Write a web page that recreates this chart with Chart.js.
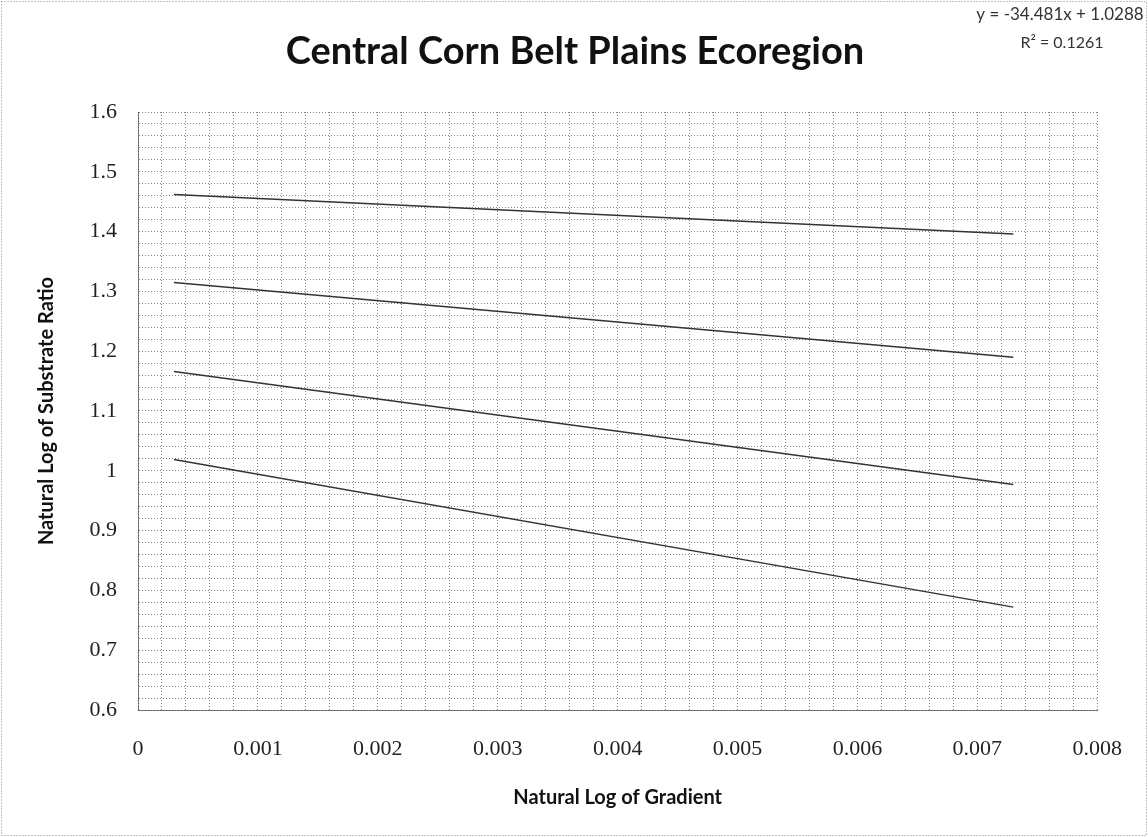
<!DOCTYPE html>
<html>
<head>
<meta charset="utf-8">
<script src="https://cdn.jsdelivr.net/npm/chart.js@4.4.1/dist/chart.umd.min.js"></script>
<style>
  html, body { margin: 0; padding: 0; background: #fff; }
  canvas { display: block; }
</style>
</head>
<body>
<canvas id="c" width="1148" height="837"></canvas>
<script>
// ---- data ----
const chartTitle = 'Central Corn Belt Plains Ecoregion';
const equationText = 'y = -34.481x + 1.0288';
const r2Text = 'R² = 0.1261';
const xAxisTitle = 'Natural Log of Gradient';
const yAxisTitle = 'Natural Log of Substrate Ratio';

const xTickLabels = ['0', '0.001', '0.002', '0.003', '0.004', '0.005', '0.006', '0.007', '0.008'];
const yTickLabels = ['0.6', '0.7', '0.8', '0.9', '1', '1.1', '1.2', '1.3', '1.4', '1.5', '1.6'];

const lineX = [0.0003, 0.0073];
const line1 = [1.462, 1.396];
const line2 = [1.315, 1.190];
const line3 = [1.166, 0.977];
const line4 = [1.019, 0.772];

const xMin = 0, xMax = 0.008, xMinorStep = 0.0002;
const yMin = 0.6, yMax = 1.6, yMinorStep = 0.02;

function pts(ys) { return lineX.map((x, i) => ({ x: x, y: ys[i] })); }

const lineStyle = { borderColor: '#333', borderWidth: 1.4, pointRadius: 0, fill: false, tension: 0, showLine: true };
const gridColor = 'rgba(50,50,50,0.6)';

const overlay = {
  id: 'overlay',
  afterDraw(chart) {
    const ctx = chart.ctx;
    ctx.save();
    ctx.setLineDash([1, 2]);
    ctx.strokeStyle = '#888';
    ctx.lineWidth = 1;
    ctx.strokeRect(1.5, 1.5, 1145, 834);
    ctx.setLineDash([]);
    ctx.fillStyle = '#111';
    ctx.textAlign = 'center';
    ctx.textBaseline = 'middle';
    ctx.font = 'bold 38px Lato, "Open Sans", sans-serif';
    ctx.fillText(chartTitle, 575, 52);
    ctx.font = '17px Lato, "Open Sans", sans-serif';
    ctx.fillStyle = '#333';
    ctx.fillText(equationText, 1060, 15);
    ctx.font = '16px Lato, "Open Sans", sans-serif';
    ctx.fillText(r2Text, 1062, 43);
    ctx.restore();
  }
};

const gridOpts = { color: gridColor, drawTicks: false, lineWidth: 1 };
const borderOpts = { display: true, color: gridColor, dash: [1, 2] };
const tickFont = { family: '"Liberation Serif", "DejaVu Serif", serif', size: 22 };
const titleFont = { family: 'Lato, "Open Sans", sans-serif', size: 20, weight: 'bold' };

new Chart(document.getElementById('c'), {
  type: 'scatter',
  data: {
    datasets: [
      Object.assign({ data: pts(line1) }, lineStyle),
      Object.assign({ data: pts(line2) }, lineStyle),
      Object.assign({ data: pts(line3) }, lineStyle),
      Object.assign({ data: pts(line4) }, lineStyle)
    ]
  },
  options: {
    responsive: false,
    animation: false,
    events: [],
    layout: { padding: { top: 112, right: 50, bottom: 0, left: 0 } },
    plugins: { legend: { display: false }, tooltip: { enabled: false }, title: { display: false } },
    scales: {
      x: {
        type: 'linear', min: xMin, max: xMax,
        afterFit(scale) { scale.height = 127; },
        afterBuildTicks(scale) {
          const t = [];
          for (let i = 0; i <= Math.round((xMax - xMin) / xMinorStep); i++) t.push({ value: xMin + i * xMinorStep });
          scale.ticks = t;
        },
        ticks: {
          autoSkip: false, maxRotation: 0, padding: 26, color: '#222', font: tickFont,
          callback: (v, i) => (i % 5 === 0 ? xTickLabels[i / 5] : '')
        },
        grid: Object.assign({}, gridOpts),
        border: borderOpts,
        title: { display: true, text: xAxisTitle, color: '#111', font: titleFont, padding: { top: 0, bottom: 27 } }
      },
      y: {
        type: 'linear', min: yMin, max: yMax,
        afterFit(scale) { scale.width = 138; },
        afterBuildTicks(scale) {
          const t = [];
          for (let i = 0; i <= Math.round((yMax - yMin) / yMinorStep); i++) t.push({ value: yMin + i * yMinorStep });
          scale.ticks = t;
        },
        ticks: {
          autoSkip: false, padding: 21, color: '#222', font: tickFont,
          callback: (v, i) => (i % 5 === 0 ? yTickLabels[i / 5] : '')
        },
        grid: Object.assign({}, gridOpts),
        border: borderOpts,
        title: { display: true, text: yAxisTitle, color: '#111', font: titleFont, padding: { top: 35, bottom: 0 } }
      }
    }
  },
  plugins: [overlay]
});
</script>
</body>
</html>
